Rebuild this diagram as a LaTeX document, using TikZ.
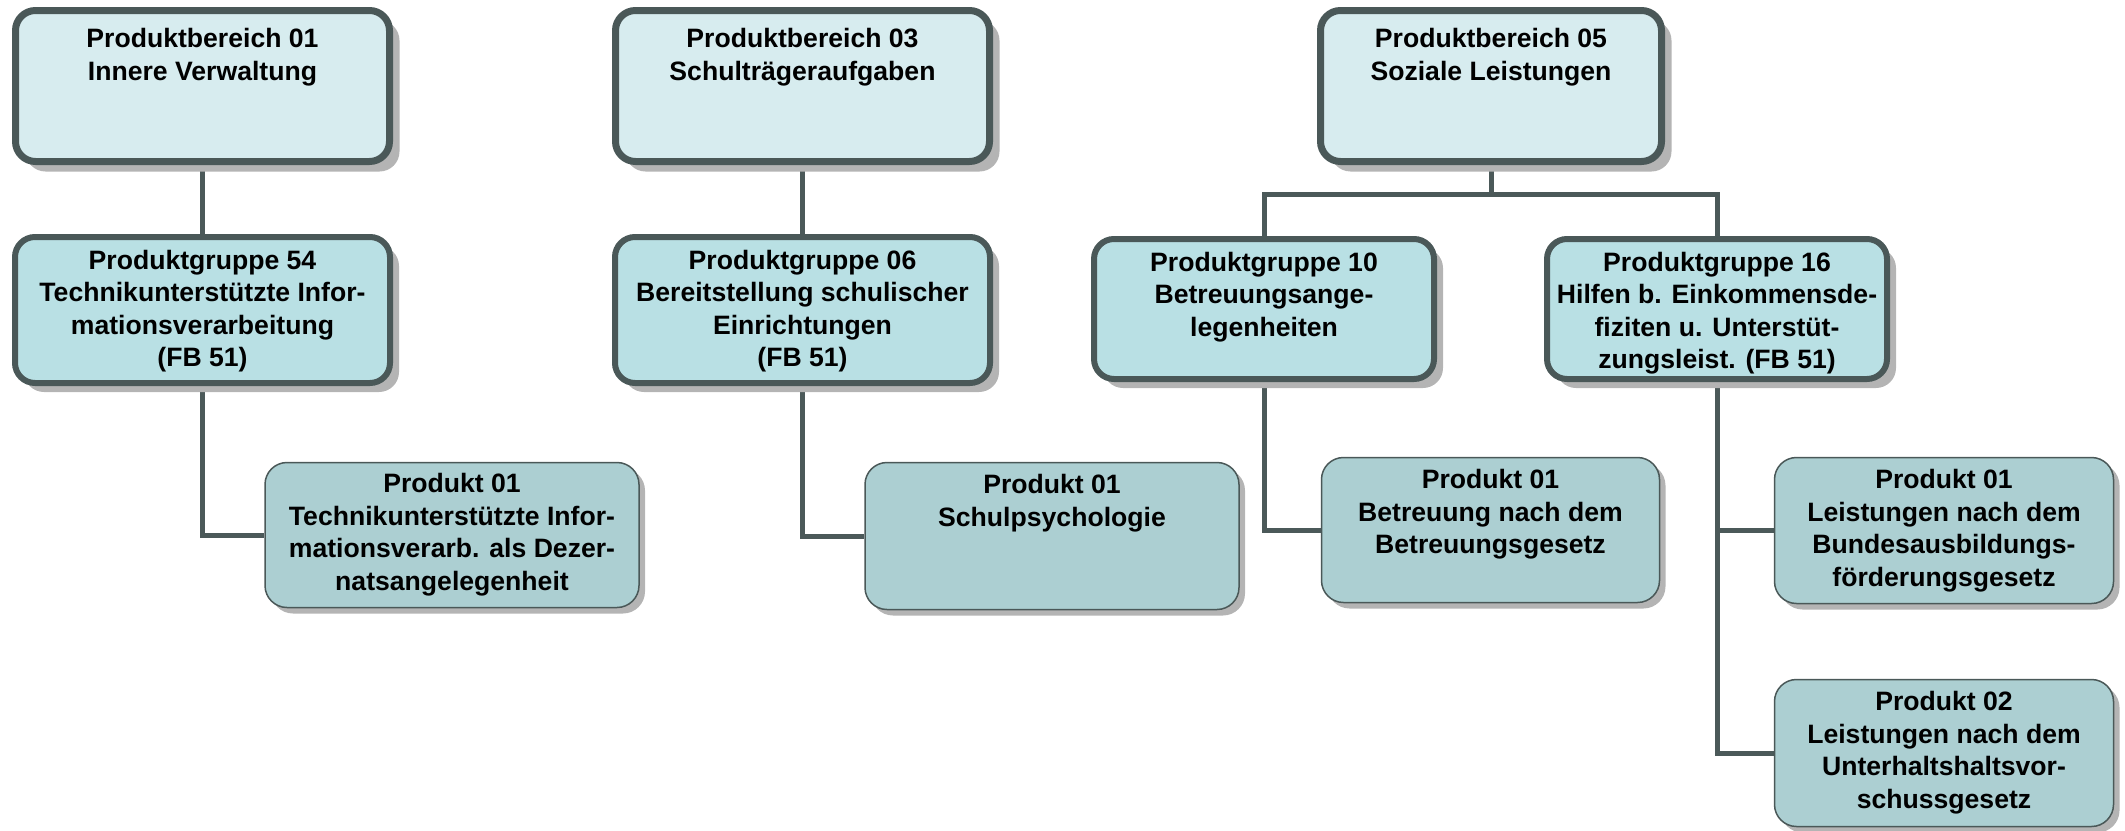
\documentclass[tikz,border=0pt]{standalone}
\usepackage{fontspec}
\setmainfont{Liberation Sans}
\usetikzlibrary{shadows,backgrounds}
\definecolor{bordc}{HTML}{4A5858}
\definecolor{pbfill}{HTML}{D7ECEF}
\definecolor{pgfill}{HTML}{B9E0E4}
\definecolor{prfill}{HTML}{ACCFD2}
\definecolor{shadc}{HTML}{B4B4B4}
\definecolor{linec}{HTML}{4B5959}
\newcommand\bx[4]{\parbox[c][#2pt][t]{#1pt}{\centering\fontsize{26.6}{32.5}\selectfont\bfseries\vspace*{#3pt}#4\par}}
\tikzset{
  pbbox/.style={draw=bordc, line width=7pt, fill=pbfill, rounded corners=20pt, inner sep=0pt,
    drop shadow={shadow xshift=10pt, shadow yshift=-10pt, fill=shadc, opacity=1}},
  pgbox/.style={draw=bordc, line width=6pt, fill=pgfill, rounded corners=20pt, inner sep=0pt,
    drop shadow={shadow xshift=9pt, shadow yshift=-9pt, fill=shadc, opacity=1}},
  prbox/.style={draw=bordc, line width=1.5pt, fill=prfill, rounded corners=22pt, inner sep=0pt,
    drop shadow={shadow xshift=6pt, shadow yshift=-6pt, fill=shadc, opacity=1}},
  conn/.style={draw=linec, line width=5pt}
}
\begin{document}
\begin{tikzpicture}[x=1pt,y=-1pt]
\useasboundingbox (0,0) rectangle (2125,830);
% top row
\node[pbbox] (pb01) at (202.5,86) {\bx{374}{151}{18}{Produktbereich 01\\Innere Verwaltung}};
\node[pbbox] (pb03) at (802.5,86) {\bx{374}{151}{18}{Produktbereich 03\\Schulträgeraufgaben}};
\node[pbbox] (pb05) at (1491,86) {\bx{341}{151}{18}{Produktbereich 05\\Soziale Leistungen}};
% groups
\node[pgbox] (pg54) at (202.5,310) {\bx{375}{146}{13}{Produktgruppe 54\\Technikunterstützte Infor-\\mationsverarbeitung\\(FB 51)}};
\node[pgbox] (pg06) at (802.5,310) {\bx{375}{146}{13}{Produktgruppe 06\\Bereitstellung schulischer\\Einrichtungen\\(FB 51)}};
\node[pgbox] (pg10) at (1264,309) {\bx{340}{140}{13}{Produktgruppe 10\\Betreuungsange-\\legenheiten}};
\node[pgbox] (pg16) at (1717,309) {\bx{340}{140}{13}{Produktgruppe 16\\Hilfen b. Einkommensde-\\fiziten u. Unterstüt-\\zungsleist. (FB 51)}};
% products
\node[prbox] (p01a) at (452,535) {\bx{374}{145}{11}{Produkt 01\\Technikunterstützte Infor-\\mationsverarb. als Dezer-\\natsangelegenheit}};
\node[prbox] (p01b) at (1052,536) {\bx{374}{147}{12}{Produkt 01\\Schulpsychologie}};
\node[prbox] (p01c) at (1490.5,530) {\bx{338}{145}{12}{Produkt 01\\Betreuung nach dem\\Betreuungsgesetz}};
\node[prbox] (p01d) at (1944,530.5) {\bx{339}{146}{12}{Produkt 01\\Leistungen nach dem\\Bundesausbildungs-\\förderungsgesetz}};
\node[prbox] (p02) at (1944,753) {\bx{339}{147}{12}{Produkt 02\\Leistungen nach dem\\Unterhaltshaltsvor-\\schussgesetz}};
% connectors
\begin{scope}[on background layer]
\coordinate (bar) at (1491,194);
\draw[conn] (pb01.south) -- (pg54.north);
\draw[conn] (pg54.south) |- (p01a.west);
\draw[conn] (pb03.south) -- (pg06.north);
\draw[conn] (pg06.south) |- (p01b.west);
\draw[conn] (pb05.south) -- (bar);
\draw[conn] (pg10.north) |- (bar) -| (pg16.north);
\draw[conn] (pg10.south) |- (p01c.west);
\draw[conn] (pg16.south) |- (p01d.west);
\draw[conn] (pg16.south) |- (p02.west);
\end{scope}
\end{tikzpicture}
\end{document}
